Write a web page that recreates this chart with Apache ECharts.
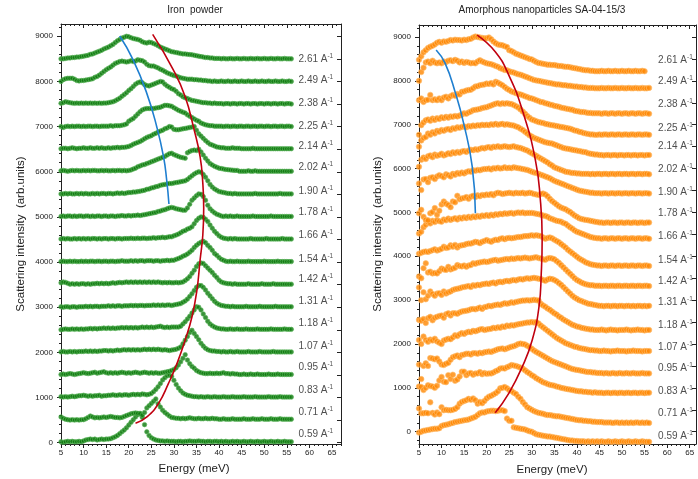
<!DOCTYPE html>
<html><head><meta charset="utf-8">
<script src="https://cdn.jsdelivr.net/npm/echarts@6/dist/echarts.min.js"></script>
<style>html,body{margin:0;padding:0;background:#fff}#c{width:698px;height:479px}</style>
</head><body><div id="c"></div>
<script>
const energy = [5,5.5,6,6.5,7,7.5,8,8.5,9,9.5,10,10.5,11,11.5,12,12.5,13,13.5,14,14.5,15,15.5,16,16.5,17,17.5,18,18.5,19,19.5,20,20.5,21,21.5,22,22.5,23,23.5,24,24.5,25,25.5,26,26.5,27,27.5,28,28.5,29,29.5,30,30.5,31,31.5,32,32.5,33,33.5,34,34.5,35,35.5,36,36.5,37,37.5,38,38.5,39,39.5,40,40.5,41,41.5,42,42.5,43,43.5,44,44.5,45,45.5,46,46.5,47,47.5,48,48.5,49,49.5,50,50.5,51,51.5,52,52.5,53,53.5,54,54.5,55,55.5,56];
const qLabels = ['0.59','0.71','0.83','0.95','1.07','1.18','1.31','1.42','1.54','1.66','1.78','1.90','2.02','2.14','2.25','2.38','2.49','2.61'];
const feBase = [0,500,1000,1500,2000,2500,3000,3500,4000,4500,5000,5500,6000,6500,7000,7500,8000,8500];
const feLabelY = [185,665,1152,1661,2141,2643,3137,3624,4067,4600,5101,5574,6090,6555,6998,7515,8032,8497];
const npLabelY = [-113,419,913,1445,1924,2433,2950,3436,3900,4462,4979,5451,5982,6499,6917,7472,7996,8475];
const yTicks = [0,1000,2000,3000,4000,5000,6000,7000,8000,9000];
const xTicks = [5,10,15,20,25,30,35,40,45,50,55,60,65];

// Iron powder: offsets above each curve's baseline (feBase)
const fe059 = [20,10,20,30,20,30,20,20,30,20, 40,60,70,80,70,80,60,70,80,70, 80,80,90,110,130,160,200,240,280,330, 390,450,510,570,620,650,560,400,240,160, 110,80,60,50,40,40,30,40,30,30, 30,20,30,30,20,30,30,40,30,30, 30,40,30,30,20,30,30,20,30,30, 20,30,20,30,20,20,30,20,30,20, 20,30,20,20,30,20,20,30,20,20, 30,20,20,30,20,20,30,20,20,30, 20,20,20];
const fe071 = [70,40,20,10,0,10,0,10,0,10, 10,30,60,90,70,50,60,50,60,70, 60,70,80,70,60,60,50,60,80,100, 120,140,150,160,150,140,110,170,270,320, 370,420,470,360,290,220,170,130,90,60, 50,40,40,30,40,30,40,50,40,30, 30,40,30,30,40,30,30,40,30,30, 20,20,30,20,20,20,30,20,20,20, 20,30,20,20,20,30,20,20,20,30, 20,20,20,30,20,20,20,30,20,20, 20,20,20];
const fe083 = [20,10,20,10,20,30,20,30,40,40, 50,40,30,40,30,40,40,50,30,40, 40,50,50,60,50,50,60,50,60,60, 50,60,70,60,70,60,80,70,60,70, 90,130,180,240,310,390,440,480,500,470, 380,290,210,150,100,70,50,40,30,20, 20,10,20,10,10,20,10,10,20,10, 10,10,20,10,10,10,20,10,10,10, 10,20,10,10,10,10,20,10,10,10, 10,10,20,10,10,10,10,20,10,10, 10,10,10];
const fe095 = [10,20,10,20,30,20,10,20,30,40, 50,40,30,40,50,60,40,50,60,70, 50,40,50,40,50,40,50,60,50,40, 50,40,50,60,50,40,50,60,50,40, 50,40,50,40,40,50,60,70,80,100, 120,160,220,290,370,450,330,250,190,150, 100,70,50,40,30,30,40,30,30,40, 30,40,50,30,30,20,30,20,20,10, 10,20,10,10,20,10,10,20,10,10, 10,10,20,10,10,10,20,10,10,10, 10,10,10];
const fe107 = [10,20,10,10,20,10,20,10,20,20, 20,30,20,30,20,30,20,30,30,40, 40,30,40,30,40,50,40,50,60,50, 60,50,60,50,60,50,60,70,60,70, 60,70,60,70,60,50,60,50,40,50, 60,70,90,120,190,270,350,440,490,420, 350,280,200,140,90,60,40,30,30,20, 20,10,20,10,10,20,10,10,20,10, 10,10,10,20,10,10,10,10,20,10, 10,10,10,10,20,10,10,10,10,10, 10,10,10];
const fe118 = [0,10,20,10,10,20,10,20,10,20, 10,20,20,30,20,30,20,30,30,40, 30,40,30,40,30,40,40,50,40,50, 40,50,40,50,40,50,60,50,60,50, 60,50,60,70,80,60,50,60,50,60, 60,60,60,80,130,180,240,300,370,440, 510,500,440,350,270,190,130,90,60,40, 30,20,20,10,10,20,10,10,20,10, 10,10,20,10,10,10,10,20,10,10, 10,10,10,20,10,10,10,10,10,20, 10,10,10];
const fe131 = [10,0,10,10,0,10,10,0,10,10, 10,20,10,20,10,20,20,10,20,20, 20,30,20,30,20,30,30,20,30,30, 30,40,30,40,30,40,40,30,40,40, 40,50,40,50,40,50,40,50,50,40, 50,60,70,80,110,140,180,240,300,370, 440,480,480,440,380,310,250,190,130,90, 60,40,30,20,20,10,20,10,10,10, 10,10,20,10,10,10,10,10,20,10, 10,10,10,10,10,20,10,10,10,10, 10,10,10];
const fe142 = [40,60,50,30,10,20,10,20,10,20, 20,10,20,10,20,20,30,20,30,20, 30,20,30,40,30,40,50,40,50,60, 50,60,50,60,50,60,50,60,50,60, 50,60,50,60,50,40,50,40,50,40, 40,50,40,50,60,90,130,180,250,320, 400,460,480,470,420,370,320,270,210,160, 100,60,40,30,20,20,10,20,10,10, 10,10,10,20,10,10,10,10,10,20, 10,10,10,10,20,10,10,10,10,10, 10,10,10];
const fe154 = [10,20,10,10,20,10,20,10,10,20, 10,20,10,20,20,10,20,20,10,20, 20,10,20,20,10,20,20,30,20,20, 20,30,20,30,20,30,30,20,30,30, 30,20,30,30,20,30,30,40,30,40, 40,60,80,100,130,150,180,220,260,320, 370,410,440,460,430,370,320,260,190,150, 100,60,40,20,10,20,10,10,20,10, 10,10,10,20,10,10,10,10,10,10, 20,10,10,10,10,10,20,10,10,10, 10,10,10];
const fe166 = [10,20,10,20,10,10,20,10,20,10, 20,10,20,10,20,20,10,20,10,20, 20,10,20,20,10,20,20,10,20,20, 20,30,20,20,30,20,30,30,20,30, 30,40,30,40,40,50,40,50,60,60, 80,100,120,150,180,200,230,250,280,350, 420,470,500,490,450,400,320,250,180,130, 80,50,30,20,10,20,10,20,10,10, 10,10,10,10,20,10,10,10,10,10, 10,20,10,10,10,10,10,10,20,10, 10,10,10];
const fe178 = [10,20,10,20,20,10,20,10,20,20, 10,20,20,10,20,10,20,20,10,20, 20,10,20,20,10,20,20,30,20,20, 30,20,30,30,40,30,40,50,60,70, 80,90,100,120,130,150,160,180,200,210, 200,180,170,160,150,150,200,280,370,420, 470,510,500,450,370,260,180,130,90,60, 40,20,10,20,10,20,10,10,20,10, 10,10,10,10,10,20,10,10,10,10, 10,10,10,20,10,10,10,10,10,10, 10,10,10];
const fe190 = [10,10,20,10,20,10,10,20,10,20, 10,20,10,10,20,10,20,10,20,20, 10,20,20,10,20,30,20,30,20,30, 40,40,50,50,60,70,80,90,110,120, 140,150,170,180,200,210,220,230,240,240, 250,260,270,280,290,300,330,370,410,450, 480,500,490,440,380,300,220,160,120,90, 60,50,40,30,20,20,10,20,10,10, 10,10,10,10,10,10,20,10,10,10, 10,10,10,10,10,10,10,20,10,10, 10,10,10];
const fe202 = [20,30,20,10,20,30,20,30,20,20, 30,20,30,20,30,30,20,20,30,20, 30,20,20,30,20,30,30,20,30,20, 30,40,60,80,110,130,150,160,180,200, 220,240,260,280,300,320,340,370,400,410, 380,360,340,320,310,300,420,450,470,480, 470,500,440,370,300,240,180,150,120,100, 80,70,60,50,45,40,35,30,30,10, 10,10,10,20,10,10,20,10,10,10, 10,10,10,10,10,10,10,10,10,10, 10,10,10];
const fe214 = [10,20,20,10,20,30,20,10,20,20, 30,20,20,30,20,20,30,20,30,20, 20,30,20,30,30,40,30,40,40,50, 60,80,110,130,150,170,200,230,260,280, 300,330,350,380,400,420,450,470,500,490, 440,430,430,440,450,460,470,480,490,500, 420,340,290,240,190,150,110,90,70,50, 40,30,30,20,20,20,30,20,20,20, 10,10,10,10,10,20,10,10,10,10, 10,10,10,10,10,10,10,10,10,10, 10,10,10];
const fe225 = [0,-20,0,10,0,10,0,10,10,0, 10,0,10,10,0,10,10,0,10,10, 10,10,20,10,20,20,20,30,40,60, 120,150,180,230,280,330,370,390,400,400, 400,400,410,420,430,450,470,470,460,450, 420,390,360,340,320,300,260,230,200,170, 140,120,80,60,40,30,20,20,10,10, 10,10,0,10,10,0,10,10,0,10, 10,0,10,10,0,10,10,0,10,10, 0,10,10,0,10,10,0,10,10,0, 10,10,0];
const fe238 = [15,30,50,40,30,20,15,20,15,20, 15,20,15,20,15,20,15,20,15,20, 20,30,40,50,70,100,130,170,210,250, 300,340,390,440,470,490,470,430,410,400, 420,440,460,480,500,490,440,400,370,340, 320,280,230,200,160,140,120,100,80,70, 60,50,40,30,30,20,20,10,20,10, 10,10,0,10,10,0,10,10,0,10, 10,0,10,10,0,10,10,0,10,10, 0,10,10,0,10,10,0,10,10,0, 10,10,0];
const fe249 = [0,40,60,70,70,70,50,20,10,20, 20,30,40,50,60,90,110,140,180,220, 260,290,320,360,400,420,440,450,440,430, 440,460,440,450,480,470,460,430,380,350, 340,340,320,300,270,250,220,190,170,150, 130,120,100,80,70,60,50,50,50,40, 40,30,30,20,20,10,10,0,10,0, 0,10,0,0,10,0,0,10,0,0, 10,0,0,10,0,0,10,0,0,10, 0,0,10,0,0,10,0,0,10,0, 0,10,0];
const fe261 = [0,0,10,20,20,30,30,40,40,50, 60,70,80,100,110,130,150,170,190,220, 240,260,290,320,360,400,430,460,480,500, 490,470,450,440,430,410,380,360,350,370, 360,340,320,290,260,240,220,200,180,160, 150,140,130,120,110,110,100,95,90,80, 70,60,50,40,30,30,20,20,10,10, 10,0,10,0,0,10,0,0,10,0, 0,10,0,0,10,0,0,10,0,0, 10,0,0,10,0,0,10,0,0,10, 0,0,0];

// Amorphous nanoparticles: absolute intensities
const np059 = [-20,0,20,30,40,50,60,70,70,80, 130,150,160,170,190,200,220,230,240,250, 260,270,280,300,320,340,380,420,440,440, 460,470,480,480,470,480,490,490,470,300, 250,250,100,90,80,70,60,50,30,10, 0,-30,-60,-70,-80,-90,-100,-110,-110,-120, -130,-140,-150,-160,-170,-180,-190,-200,-200,-210, -210,-220,-220,-220,-230,-220,-230,-220,-230,-220, -230,-220,-230,-230,-220,-230,-230,-220,-230,-230, -220,-230,-230,-220,-230,-230,-220,-230,-230,-220, -230,-230,-230];
const np071 = [530,420,420,430,420,670,430,390,440,400, 560,490,500,490,490,500,520,560,640,680, 700,720,750,730,760,720,640,680,650,700, 760,800,820,850,880,920,990,1000,1020,990, 950,930,890,860,800,750,680,620,560,530, 500,470,450,430,420,410,390,380,380,370, 360,350,350,340,330,320,310,300,290,280, 270,260,260,250,250,240,240,230,230,220, 220,220,210,210,210,210,200,210,210,200, 210,200,210,200,210,200,210,210,200,210, 200,210,200];
const np083 = [1030,1020,950,1000,1060,1040,1030,1000,1050,1170, 1250,1140,1130,1290,1200,1300,1160,1190,1260,1370, 1370,1290,1330,1340,1300,1330,1330,1360,1310,1340, 1320,1330,1330,1350,1380,1400,1440,1450,1440,1470, 1490,1520,1510,1500,1480,1460,1440,1400,1360,1330, 1290,1260,1220,1190,1160,1130,1110,1090,1070,1060, 1050,1030,1020,1000,990,980,970,960,950,940, 930,920,920,910,910,900,900,890,900,890, 890,890,880,890,890,880,890,890,880,890, 890,880,890,890,880,890,890,880,890,890, 880,890,890];
const np095 = [1530,1200,1500,1560,1500,1680,1670,1650,1670,1600, 1530,1520,1550,1570,1640,1700,1720,1740,1700,1750, 1760,1780,1780,1760,1790,1790,1780,1800,1790,1810, 1820,1830,1820,1840,1860,1880,1890,1900,1880,1900, 1920,1940,1950,1970,2000,2010,2000,1990,1960,1930, 1890,1850,1820,1790,1760,1730,1700,1670,1640,1610, 1590,1570,1550,1530,1510,1490,1470,1450,1430,1420, 1410,1400,1390,1380,1370,1360,1360,1350,1350,1340, 1340,1340,1330,1340,1330,1330,1340,1330,1330,1340, 1330,1330,1340,1330,1330,1340,1330,1330,1330,1340, 1330,1330,1330];
const np107 = [2090,2000,2170,2090,2050,2100,2080,2120,2060,2030, 2000,2080,2100,2120,2110,2150,2200,2180,2220,2250, 2230,2260,2280,2270,2300,2290,2310,2330,2340,2320, 2330,2340,2350,2370,2360,2380,2370,2400,2390,2420, 2410,2430,2420,2440,2450,2460,2470,2480,2490,2490, 2500,2490,2500,2470,2420,2380,2340,2300,2260,2220, 2180,2140,2110,2080,2050,2020,2000,1980,1960,1940, 1930,1910,1900,1890,1880,1870,1860,1860,1850,1850, 1840,1840,1850,1840,1840,1830,1840,1840,1850,1840, 1840,1840,1830,1840,1840,1850,1840,1840,1840,1830, 1840,1840,1840];
const np118 = [2550,2530,2570,2480,2590,2620,2540,2600,2620,2640, 2650,2600,2680,2700,2650,2700,2700,2690,2720,2740, 2750,2760,2770,2790,2800,2790,2810,2830,2800,2840, 2850,2870,2860,2880,2890,2900,2890,2910,2930,2920, 2930,2950,2940,2960,2970,2980,2990,2990,3000,2990, 3000,3010,3000,2990,2920,2880,2850,2810,2780,2740, 2700,2670,2630,2600,2560,2530,2500,2470,2440,2420, 2400,2390,2370,2360,2350,2340,2330,2330,2320,2320, 2320,2330,2320,2310,2320,2330,2320,2320,2310,2320, 2320,2320,2330,2320,2310,2320,2320,2330,2320,2320, 2310,2320,2320];
const np131 = [3290,3000,3180,3020,3100,3200,3140,3100,3150,3160, 3120,3200,3150,3180,3200,3230,3250,3260,3270,3290, 3300,3310,3320,3300,3340,3330,3350,3340,3360,3370, 3380,3370,3390,3400,3380,3410,3420,3410,3430,3440, 3430,3450,3460,3450,3470,3480,3470,3490,3500,3490, 3500,3510,3500,3490,3480,3460,3440,3470,3490,3480, 3460,3430,3390,3350,3300,3250,3200,3150,3100,3060, 3030,3000,2980,2960,2940,2920,2910,2900,2890,2880, 2870,2870,2860,2870,2870,2860,2870,2870,2860,2870, 2870,2860,2870,2870,2860,2870,2860,2870,2870,2860, 2870,2860,2870];
const np142 = [3540,3500,3730,3840,3630,3650,3610,3620,3610,3660, 3720,3700,3690,3760,3700,3720,3740,3800,3780,3770, 3790,3760,3790,3800,3840,3830,3850,3860,3870,3880, 3870,3880,3900,3910,3920,3900,3910,3920,3930,3940, 3930,3950,3940,3950,3960,3950,3960,3970,3960,3950, 3960,3970,3980,3960,3950,3930,3920,3950,3960,3950, 3930,3890,3850,3800,3750,3700,3650,3600,3550,3500, 3460,3430,3400,3380,3360,3350,3340,3340,3330,3330, 3330,3320,3330,3330,3320,3330,3330,3320,3330,3330, 3320,3330,3330,3320,3330,3330,3320,3330,3330,3320, 3330,3330,3320];
const np154 = [4060,4080,4100,4110,4100,4120,4140,4160,4130,4150, 4170,4220,4190,4200,4250,4220,4260,4200,4240,4250, 4260,4280,4290,4290,4310,4330,4320,4300,4330,4350, 4370,4350,4330,4360,4380,4370,4400,4410,4390,4410, 4420,4410,4420,4430,4440,4440,4450,4460,4460,4470, 4480,4470,4480,4470,4460,4430,4400,4420,4430,4410, 4380,4350,4320,4280,4240,4200,4150,4110,4070,4030, 3990,3950,3920,3890,3860,3840,3820,3810,3800,3790, 3790,3780,3790,3790,3780,3790,3790,3780,3790,3790, 3780,3790,3790,3780,3790,3790,3780,3790,3790,3780, 3790,3790,3780];
const np166 = [4520,4560,4660,4720,4780,4750,4810,4780,4830,4800, 4790,4840,4820,4860,4830,4850,4870,4840,4880,4860, 4890,4870,4900,4880,4910,4890,4920,4900,4930,4920, 4940,4920,4950,4930,4960,4950,4970,4960,4980,4970, 4980,4990,4970,4990,5000,4990,5000,4980,4990,4990, 4990,4980,4970,4960,4950,4930,4920,4900,4870,4850, 4830,4810,4800,4790,4760,4740,4700,4660,4630,4590, 4560,4540,4520,4500,4480,4460,4440,4430,4420,4410, 4410,4400,4410,4410,4400,4410,4410,4400,4410,4410, 4400,4410,4410,4400,4410,4410,4400,4410,4410,4400, 4410,4410,4400];
const np178 = [4980,5060,4900,4830,4820,4980,5010,5100,4950,5040, 5180,5250,5200,5170,5120,5250,5230,5380,5300,5320, 5330,5350,5310,5360,5380,5350,5390,5370,5400,5390, 5410,5400,5420,5390,5430,5450,5440,5420,5430,5440, 5450,5440,5430,5450,5440,5440,5450,5430,5440,5450, 5440,5420,5410,5400,5420,5430,5410,5370,5310,5260, 5220,5180,5140,5110,5090,5070,5040,5010,4970,4930, 4900,4870,4850,4840,4830,4820,4810,4800,4790,4780, 4770,4770,4760,4770,4770,4760,4770,4770,4760,4770, 4770,4760,4770,4770,4760,4770,4770,4760,4770,4770, 4760,4770,4770];
const np190 = [5660,5510,5750,5760,5690,5790,5800,5760,5820,5850, 5830,5800,5870,5850,5820,5880,5860,5900,5880,5910, 5890,5920,5940,5930,5960,5950,5970,5960,5980,5990, 5990,6000,5980,6010,6000,6020,6000,6010,6030,6010, 6020,6010,6030,6020,6010,6000,5990,5980,5970,5950, 5930,5910,5900,5880,5860,5840,5820,5800,5780,5750, 5720,5700,5680,5660,5640,5620,5600,5580,5560,5540, 5520,5500,5490,5480,5470,5460,5450,5450,5440,5440, 5440,5430,5440,5440,5430,5440,5440,5430,5440,5440, 5430,5440,5440,5430,5440,5440,5430,5440,5440,5430, 5440,5440,5430];
const np202 = [6040,6200,6250,6220,6280,6300,6260,6320,6290,6310, 6340,6300,6320,6350,6330,6370,6350,6380,6360,6390, 6400,6380,6410,6430,6420,6440,6430,6450,6470,6460, 6480,6490,6470,6500,6490,6510,6490,6500,6510,6500, 6490,6500,6510,6490,6480,6470,6450,6430,6410,6380, 6350,6320,6290,6260,6230,6200,6170,6140,6100,6070, 6030,6010,5990,5970,5950,5930,5920,5910,5900,5900, 5890,5890,5880,5880,5880,5880,5870,5880,5870,5880, 5880,5870,5880,5880,5870,5880,5880,5870,5880,5880, 5870,5880,5880,5870,5880,5880,5870,5880,5880,5870, 5880,5880,5870];
const np214 = [6500,6640,6700,6720,6800,6770,6830,6800,6860,6840, 6880,6860,6890,6900,6880,6920,6910,6940,6930,6950, 6960,6940,6970,6960,6980,6970,6990,6980,7000,6990, 7000,6990,7010,7000,7020,7000,7010,7020,7000,7010, 7000,6990,6980,6960,6940,6910,6880,6840,6800,6760, 6730,6700,6680,6660,6640,6620,6600,6590,6580,6570, 6550,6530,6510,6490,6470,6460,6450,6440,6430,6420, 6410,6400,6390,6380,6370,6350,6340,6330,6320,6320, 6310,6310,6300,6310,6310,6300,6310,6310,6300,6310, 6310,6300,6310,6310,6300,6310,6310,6300,6310,6310, 6300,6310,6310];
const np225 = [6770,6990,7050,7100,7120,7090,7140,7110,7150,7130, 7170,7150,7180,7160,7190,7180,7200,7190,7210,7230, 7260,7250,7280,7300,7330,7340,7350,7360,7380,7390, 7400,7420,7440,7460,7480,7490,7470,7490,7480,7490, 7480,7470,7450,7420,7390,7350,7300,7250,7200,7160, 7120,7100,7080,7060,7050,7040,7020,7010,7000,6990, 6980,6970,6960,6950,6940,6930,6920,6910,6890,6870, 6860,6840,6830,6810,6800,6790,6780,6780,6770,6770, 6780,6770,6780,6780,6770,6780,6780,6770,6780,6780, 6770,6780,6780,6770,6780,6780,6770,6780,6780,6770, 6780,6780,6770];
const np238 = [7560,7600,7520,7560,7570,7680,7560,7580,7560,7600, 7560,7620,7640,7600,7650,7680,7660,7700,7690,7750, 7760,7780,7790,7800,7830,7870,7880,7900,7910,7920, 7940,7930,7950,7920,7980,7960,7930,7900,7860,7820, 7790,7760,7740,7720,7700,7690,7670,7650,7630,7610, 7600,7580,7560,7540,7520,7510,7490,7480,7460,7450, 7430,7420,7410,7390,7380,7370,7360,7350,7340,7320, 7310,7300,7290,7290,7280,7270,7270,7260,7260,7260, 7260,7250,7260,7260,7250,7260,7260,7250,7260,7260, 7250,7260,7260,7250,7260,7260,7250,7260,7260,7250, 7260,7260,7250];
const np249 = [8000,8200,8300,8420,8440,8400,8460,8420,8400,8420, 8400,8440,8430,8460,8470,8450,8480,8460,8420,8440, 8410,8430,8420,8400,8410,8400,8440,8470,8440,8420, 8400,8390,8380,8360,8340,8320,8290,8270,8250,8240, 8220,8200,8190,8170,8150,8140,8120,8100,8080,8060, 8040,8020,8010,8000,7990,7980,7970,7960,7950,7940, 7930,7920,7920,7910,7900,7900,7890,7890,7880,7870, 7870,7860,7860,7850,7850,7840,7840,7840,7830,7830, 7830,7840,7830,7830,7840,7830,7830,7840,7830,7830, 7840,7830,7830,7840,7830,7830,7840,7830,7830,7840, 7830,7830,7840];
const np261 = [8480,8560,8650,8700,8750,8780,8800,8830,8870,8890, 8870,8900,8890,8910,8930,8920,8940,8930,8930,8920, 8940,8930,8950,8960,8990,9010,9000,8990,8980,8970, 8970,8990,8950,8900,8860,8830,8820,8810,8790,8770, 8700,8680,8650,8620,8600,8580,8560,8540,8520,8500, 8490,8460,8430,8410,8400,8390,8380,8370,8370,8360, 8360,8350,8340,8340,8330,8320,8320,8310,8300,8290, 8280,8270,8260,8250,8240,8240,8230,8230,8220,8220, 8220,8230,8220,8220,8230,8220,8220,8230,8220,8220, 8230,8220,8220,8230,8220,8220,8230,8220,8220,8230, 8220,null,null];

// guide curves
const feBlue = [[18.0,9006],[21.0,8474],[24.0,7736],[26.2,6998],[27.7,6334],[28.4,5817],[28.9,5286]];
const feRed = [[21.5,428],[24.1,576],[26.6,871],[28.8,1314],[30.7,1757],[32.5,2274],[34.0,2790],[35.1,3381],[35.8,4045],[36.4,4600],[36.6,5200],[36.4,5750],[35.8,6334],[34.4,6961],[32.5,7662],[29.9,8253],[25.3,9043]];
const npBlue = [[8.8,8703],[10.8,8399],[13.1,7715],[14.9,7031],[16.8,6043],[17.5,4979]];
const npRed = [[21.9,434],[24.9,875],[27.9,1483],[30.1,2091],[31.6,2851],[32.1,3611],[32.3,4400],[31.9,5283],[30.8,6195],[27.9,7335],[24.9,8133],[21.9,8665],[17.9,9045]];

const feCurves = [fe059,fe071,fe083,fe095,fe107,fe118,fe131,fe142,fe154,fe166,fe178,fe190,fe202,fe214,fe225,fe238,fe249,fe261];
const npCurves = [np059,np071,np083,np095,np107,np118,np131,np142,np154,np166,np178,np190,np202,np214,np225,np238,np249,np261];

const FONT = "'Liberation Sans', Arial, sans-serif";
const INK = '#222';
function range(a,b,s){const r=[];for(let v=a;v<=b+1e-9;v+=s)r.push(Math.round(v*1000)/1000);return r;}

const panels = [
  {left:61, top:24, width:280, height:420, xmax:67, ymin:-29, ymax:9272},
  {left:419, top:25, width:277, height:419, xmax:66.4, ymin:-280, ymax:9274}
];
const grid=[], xAxis=[], yAxis=[];
panels.forEach((p,g)=>{
  grid.push({left:p.left, top:p.top, width:p.width, height:p.height, containLabel:false, outerBoundsMode:'none'});
  const line={show:true,onZero:false,lineStyle:{color:INK,width:1}};
  const noLine={show:false,onZero:false};
  const base={gridIndex:g,type:'value',min:5,max:p.xmax,splitLine:{show:false}};
  const minorX=range(5,Math.floor(p.xmax),1);
  xAxis.push(Object.assign({},base,{position:'bottom',axisLine:line,axisTick:{show:true,length:4,customValues:xTicks,lineStyle:{color:INK}},axisLabel:{show:true,customValues:xTicks,formatter:v=>String(v),fontSize:8,color:INK,fontFamily:FONT,margin:5}}));
  xAxis.push(Object.assign({},base,{position:'bottom',axisLine:noLine,axisTick:{show:true,length:2,customValues:minorX,lineStyle:{color:INK}},axisLabel:{show:false}}));
  xAxis.push(Object.assign({},base,{position:'top',axisLine:line,axisTick:{show:true,inside:true,length:4,customValues:xTicks,lineStyle:{color:INK}},axisLabel:{show:false}}));
  xAxis.push(Object.assign({},base,{position:'top',axisLine:noLine,axisTick:{show:true,inside:true,length:2,customValues:minorX,lineStyle:{color:INK}},axisLabel:{show:false}}));
  const ybase={gridIndex:g,type:'value',min:p.ymin,max:p.ymax,splitLine:{show:false}};
  const minorY=range(Math.ceil(p.ymin/200)*200,p.ymax,200);
  const rightY=range(Math.ceil(p.ymin/500)*500,p.ymax,500);
  yAxis.push(Object.assign({},ybase,{position:'left',axisLine:line,axisTick:{show:true,length:4,customValues:yTicks,lineStyle:{color:INK}},axisLabel:{show:true,customValues:yTicks,formatter:v=>String(Math.round(v)),fontSize:8,color:INK,fontFamily:FONT,margin:8}}));
  yAxis.push(Object.assign({},ybase,{position:'left',axisLine:noLine,axisTick:{show:true,length:2,customValues:minorY,lineStyle:{color:INK}},axisLabel:{show:false}}));
  yAxis.push(Object.assign({},ybase,{position:'right',axisLine:line,axisTick:{show:true,inside:true,length:4,customValues:rightY,lineStyle:{color:INK}},axisLabel:{show:false}}));
});

const series=[];
function pts(vals,base){const out=[];vals.forEach((v,i)=>{if(v!==null&&v!==undefined&&i<energy.length)out.push([energy[i],v+base]);});return out;}
feCurves.forEach((c,i)=>{
  series.push({type:'scatter',xAxisIndex:0,yAxisIndex:0,data:pts(c,feBase[i]),symbol:'circle',symbolSize:4.5,
    itemStyle:{color:'#0a760a',borderColor:'#58b558',borderWidth:0.8},z:2,silent:true});
});
npCurves.forEach((c,i)=>{
  series.push({type:'scatter',xAxisIndex:4,yAxisIndex:3,data:pts(c,0),symbol:'circle',symbolSize:5.5,
    itemStyle:{color:'#ff8600',borderColor:'#ffbe70',borderWidth:0.8},z:2,silent:true});
});
function guide(data,xi,yi,color){return {type:'line',xAxisIndex:xi,yAxisIndex:yi,data:data,smooth:0.5,symbol:'none',lineStyle:{color:color,width:1.6},z:5,silent:true};}
series.push(guide(feBlue,0,0,'#1f7fd0'));
series.push(guide(feRed,0,0,'#c0000f'));
series.push(guide(npBlue,4,3,'#1f7fd0'));
series.push(guide(npRed,4,3,'#c0000f'));
function labels(xi,yi,x,ys){
  return {type:'scatter',xAxisIndex:xi,yAxisIndex:yi,symbolSize:0,silent:true,z:6,
    data:qLabels.map((q,i)=>({name:q,value:[x,ys[i]]})),
    label:{show:true,position:'right',distance:0,formatter:p=>'{a|'+p.name+' A}{s|-1}',
      rich:{a:{fontSize:10,color:INK,fontFamily:FONT,lineHeight:13},s:{fontSize:6.5,color:INK,fontFamily:FONT,verticalAlign:'top',lineHeight:8}}}};
}
series.push(labels(0,0,57.6,feLabelY));
series.push(labels(4,3,58.0,npLabelY));

const tfont=(s)=>s+'px '+FONT;
const graphic=[
  {type:'text',x:195,y:10,style:{text:'Iron  powder',font:tfont(10),fill:INK,textAlign:'center',textVerticalAlign:'middle'}},
  {type:'text',x:542,y:10,style:{text:'Amorphous nanoparticles SA-04-15/3',font:tfont(10),fill:INK,textAlign:'center',textVerticalAlign:'middle'}},
  {type:'text',x:194,y:469,style:{text:'Energy (meV)',font:tfont(11.5),fill:INK,textAlign:'center',textVerticalAlign:'middle'}},
  {type:'text',x:552,y:470,style:{text:'Energy (meV)',font:tfont(11.5),fill:INK,textAlign:'center',textVerticalAlign:'middle'}},
  {type:'text',x:21,y:234,rotation:Math.PI/2,style:{text:'Scattering intensity  (arb.units)',font:tfont(11.5),fill:INK,textAlign:'center',textVerticalAlign:'middle'}},
  {type:'text',x:378,y:234,rotation:Math.PI/2,style:{text:'Scattering intensity  (arb.units)',font:tfont(11.5),fill:INK,textAlign:'center',textVerticalAlign:'middle'}}
];

const chart=echarts.init(document.getElementById('c'),null,{renderer:'canvas'});
chart.setOption({animation:false,backgroundColor:'#fff',grid,xAxis,yAxis,series,graphic});
</script></body></html>
